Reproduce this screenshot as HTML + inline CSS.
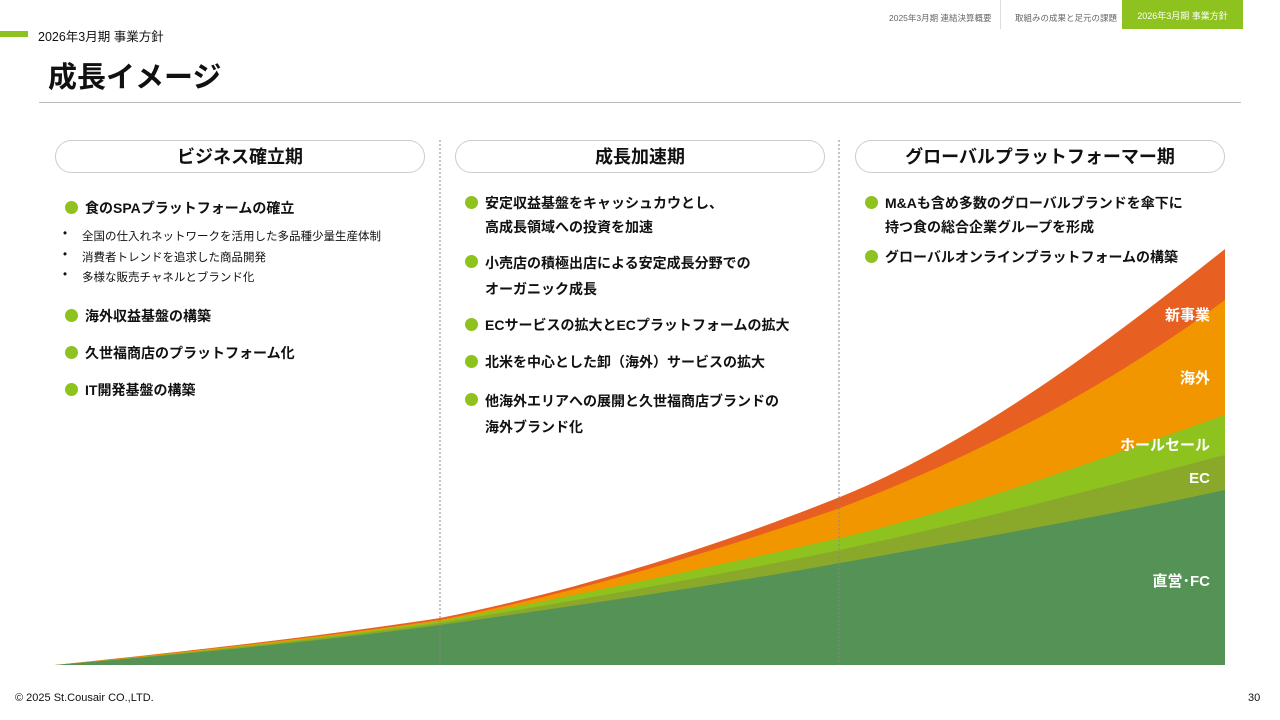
<!DOCTYPE html>
<html><head><meta charset="utf-8"><style>
body{margin:0;width:1280px;height:720px;position:relative;background:#fff;font-family:"Liberation Sans","Noto Sans CJK JP",sans-serif;color:#111;overflow:hidden}
.a{position:absolute;white-space:nowrap}
.pill{position:absolute;top:140px;height:33px;width:370px;border:1px solid #ccc;border-radius:17px;text-align:center;line-height:33px;font-size:18px;font-weight:bold;box-sizing:border-box}
.b{position:absolute;font-size:14px;font-weight:bold;line-height:24px;padding-left:20px;white-space:nowrap}
.b:before{content:"";position:absolute;left:0;top:5px;width:13px;height:13px;border-radius:50%;background:#8dc21f}
.s{position:absolute;font-size:11.5px;white-space:nowrap;padding-left:19px}
.s:before{content:"•";position:absolute;left:0}
.lab{position:absolute;color:#fff;font-size:15px;font-weight:bold;right:70px}
</style></head><body>
<div class="a" style="left:889px;top:12px;font-size:8.5px;color:#666">2025年3月期 連結決算概要</div>
<div class="a" style="left:1000px;top:0;width:1px;height:29px;background:#ddd"></div>
<div class="a" style="left:1015px;top:12px;font-size:8.5px;color:#666">取組みの成果と足元の課題</div>
<div class="a" style="left:1122px;top:0;width:121px;height:29px;background:#8dc21f;color:#fff;font-size:9px;line-height:33px;text-align:center">2026年3月期 事業方針</div>
<div class="a" style="left:0;top:31px;width:28px;height:6px;background:#8dc21f"></div>
<div class="a" style="left:38px;top:26px;font-size:12.5px">2026年3月期 事業方針</div>
<div class="a" style="left:48px;top:54px;font-size:29px;font-weight:bold">成長イメージ</div>
<div class="a" style="left:39px;top:102px;width:1202px;height:1px;background:#bbb"></div>

<svg class="a" style="left:0;top:0" width="1280" height="720">
<path d="M55,665 C200,650 330,635 440,618 C580,590 720,545 840,497 C980,440 1110,340 1225,249 L1225,665Z" fill="#e86021"/>
<path d="M55,665 C200,651 330,636 440,620 C580,592 720,550 840,508 C980,455 1110,385 1225,300 L1225,665Z" fill="#f29600"/>
<path d="M55,665 C200,652 330,637 440,621 C580,595 720,565 840,538 C980,505 1110,455 1225,415 L1225,665Z" fill="#8dc21f"/>
<path d="M55,665 C200,652 330,638 440,623 C580,600 720,575 840,550 C980,520 1110,485 1225,455 L1225,665Z" fill="#8aa82a"/>
<path d="M55,665 C200,653 330,640 440,625 C580,605 720,585 840,563 C980,538 1110,515 1225,490 L1225,665Z" fill="#559255"/>
<line x1="440" y1="140" x2="440" y2="665" stroke="#888" stroke-dasharray="2,2"/>
<line x1="839" y1="140" x2="839" y2="665" stroke="#888" stroke-dasharray="2,2"/>
</svg>

<div class="pill" style="left:55px">ビジネス確立期</div>
<div class="pill" style="left:455px">成長加速期</div>
<div class="pill" style="left:855px">グローバルプラットフォーマー期</div>

<div class="b" style="left:65px;top:196px">食のSPAプラットフォームの確立</div>
<div class="s" style="left:63px;top:228px">全国の仕入れネットワークを活用した多品種少量生産体制</div>
<div class="s" style="left:63px;top:249px">消費者トレンドを追求した商品開発</div>
<div class="s" style="left:63px;top:269px">多様な販売チャネルとブランド化</div>
<div class="b" style="left:65px;top:304px">海外収益基盤の構築</div>
<div class="b" style="left:65px;top:341px">久世福商店のプラットフォーム化</div>
<div class="b" style="left:65px;top:378px">IT開発基盤の構築</div>

<div class="b" style="left:465px;top:191px">安定収益基盤をキャッシュカウとし、<br>高成長領域への投資を加速</div>
<div class="b" style="left:465px;top:250px;line-height:26px">小売店の積極出店による安定成長分野での<br>オーガニック成長</div>
<div class="b" style="left:465px;top:313px">ECサービスの拡大とECプラットフォームの拡大</div>
<div class="b" style="left:465px;top:350px">北米を中心とした卸（海外）サービスの拡大</div>
<div class="b" style="left:465px;top:388px;line-height:26px">他海外エリアへの展開と久世福商店ブランドの<br>海外ブランド化</div>

<div class="b" style="left:865px;top:191px">M&amp;Aも含め多数のグローバルブランドを傘下に<br>持つ食の総合企業グループを形成</div>
<div class="b" style="left:865px;top:245px">グローバルオンラインプラットフォームの構築</div>

<div class="lab" style="top:304px">新事業</div>
<div class="lab" style="top:367px">海外</div>
<div class="lab" style="top:434px">ホールセール</div>
<div class="lab" style="top:470px">EC</div>
<div class="lab" style="top:570px">直営･FC</div>

<div class="a" style="left:15px;top:692px;font-size:11px">© 2025 St.Cousair CO.,LTD.</div>
<div class="a" style="left:1248px;top:692px;font-size:11px">30</div>
</body></html>
